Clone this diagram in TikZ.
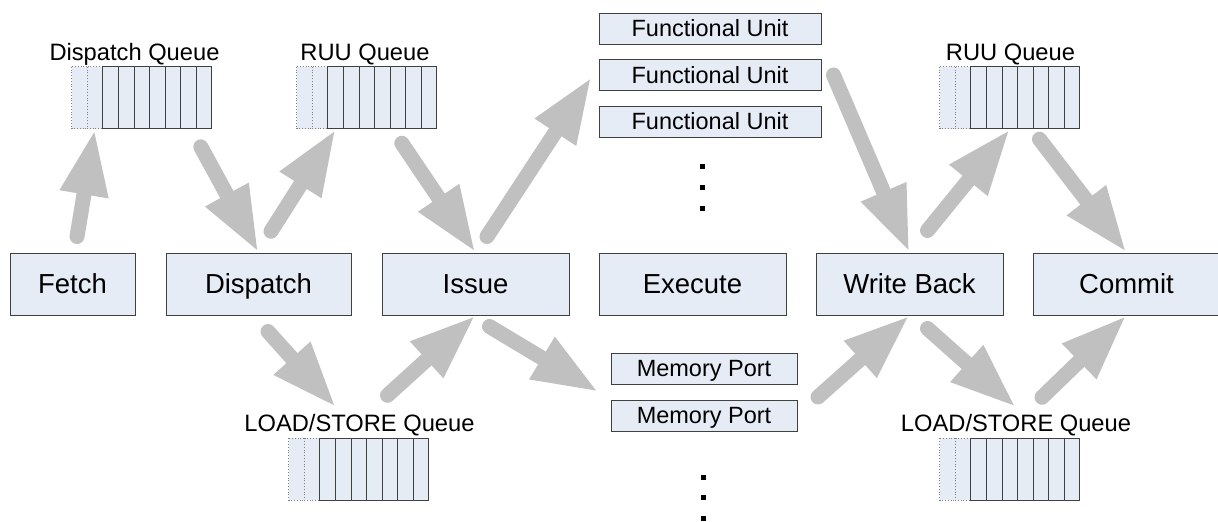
\documentclass[tikz,border=0pt]{standalone}
\usepackage{fontspec}
\setmainfont{Liberation Sans}
\usetikzlibrary{arrows.meta,calc}
\definecolor{boxfill}{HTML}{E6ECF6}
\definecolor{edge}{HTML}{404040}
\definecolor{flowgray}{HTML}{C0C0C0}
\definecolor{ghostedge}{HTML}{7F7F7F}

% nine cells of a queue: two empty (dotted) slots, seven filled slots
\newcommand\queuecells[1]{%
  \foreach \k in {0,1}
    \draw[qghost] ($(#1.north west)+(\k*15.556,0)$) rectangle ++(15.556,62);
  \foreach \k in {2,...,8}
    \draw[qcell] ($(#1.north west)+(\k*15.556,0)$) rectangle ++(15.556,62);
}

\begin{document}
\begin{tikzpicture}[x=1pt,y=-1pt,
  stagebox/.style={draw=edge, fill=boxfill, line width=1pt, minimum width=187pt,
    minimum height=62pt, inner sep=0pt, font=\fontsize{27.5}{30}\selectfont,
    text height=19.7pt, text depth=0pt},
  unitbox/.style={draw=edge, fill=boxfill, line width=1pt, minimum height=31pt,
    inner sep=0pt, font=\fontsize{23.5}{26}\selectfont, text height=16.8pt, text depth=0pt},
  queuebox/.style={minimum width=140pt, minimum height=62pt, inner sep=0pt},
  qlabel/.style={anchor=base, inner sep=0pt, font=\fontsize{23.7}{26}\selectfont},
  qcell/.style={draw=edge, fill=boxfill, line width=1pt},
  qghost/.style={draw=ghostedge, fill=boxfill, line width=0.8pt, dotted},
  flow/.style={draw=flowgray, line width=15pt, line cap=round,
    -{Triangle[length=66pt,width=45pt]}},
  ellipsisdot/.style={fill=black, minimum size=5pt, inner sep=0pt},
]
\useasboundingbox (0,0) rectangle (1218,522);

% pipeline stages
\node[stagebox, minimum width=125pt] (fetch) at (72.5,284) {Fetch};
\node[stagebox, minimum width=185pt] (dispatch) at (258.5,284) {Dispatch};
\node[stagebox] (issue) at (475.5,284) {Issue};
\node[stagebox] (execute) at (692.5,284) {Execute};
\node[stagebox] (wb) at (909.5,284) {Write Back};
\node[stagebox] (commit) at (1126.5,284) {Commit};

% functional units and memory ports
\node[unitbox, minimum width=222pt] (fu1) at (710,28.5) {Functional Unit};
\node[unitbox, minimum width=222pt] (fu2) at (710,75) {Functional Unit};
\node[unitbox, minimum width=222pt] (fu3) at (710,121.5) {Functional Unit};
\node[unitbox, minimum width=186pt] (mp1) at (704,368.5) {Memory Port};
\node[unitbox, minimum width=186pt] (mp2) at (704,415.5) {Memory Port};

\node[ellipsisdot] (fd1) at (702,166.5) {};
\node[ellipsisdot] (fd2) at (702,187) {};
\node[ellipsisdot] (fd3) at (702,208) {};
\node[ellipsisdot] (md1) at (703,477) {};
\node[ellipsisdot] (md2) at (703,497.5) {};
\node[ellipsisdot] (md3) at (703,518) {};

% queues
\node[queuebox] (dq) at (142,98) {};
\node[queuebox] (ruua) at (367,98) {};
\node[queuebox] (ruub) at (1010,98) {};
\node[queuebox] (lsa) at (359,469.5) {};
\node[queuebox] (lsb) at (1010,469.5) {};
\queuecells{dq}
\queuecells{ruua}
\queuecells{ruub}
\queuecells{lsa}
\queuecells{lsb}

\node[qlabel] (dql) at (134.5,60) {Dispatch Queue};
\node[qlabel] (ruual) at (365,60) {RUU Queue};
\node[qlabel] (ruubl) at (1010.5,60) {RUU Queue};
\node[qlabel] (lsal) at (359.5,431) {LOAD/STORE Queue};
\node[qlabel] (lsbl) at (1016,431) {LOAD/STORE Queue};

% data flow
\draw[flow] ($(fetch.north)+(4.5,-16)$) -- ($(dq.south west)+(23,0)$);
\draw[flow] ($(dq.south east)+(-11.4,17.6)$) -- (dispatch.north);
\draw[flow] ($(dispatch.north)+(12.5,-21.3)$) -- ($(ruua.south west)+(39,0)$);
\draw[flow] ($(ruua.south west)+(105,14)$) -- (issue.north);
\draw[flow] ($(issue.north)+(11.5,-16)$) -- ($(fu2.west)+(-7,2)$);
\draw[flow] ($(fu2.east)+(12,0)$) -- (wb.north);
\draw[flow] ($(wb.north)+(18,-22)$) -- (ruub.south);
\draw[flow] ($(ruub.south)+(29.5,10)$) -- (commit.north);

\draw[flow] ($(dispatch.south)+(9.5,16)$) -- ($(lsa.north)+(-23,-31)$);
\draw[flow] ($(lsa.north)+(28.5,-43)$) -- (issue.south);
\draw[flow] ($(issue.south)+(14,11)$) -- ($(mp1.west)+(-12,23.5)$);
\draw[flow] ($(mp1.east)+(20.5,28.5)$) -- (wb.south);
\draw[flow] ($(wb.south)+(18,13)$) -- ($(lsb.north)+(6,-31)$);
\draw[flow] ($(lsb.north)+(32,-41)$) -- (commit.south);
\end{tikzpicture}
\end{document}
